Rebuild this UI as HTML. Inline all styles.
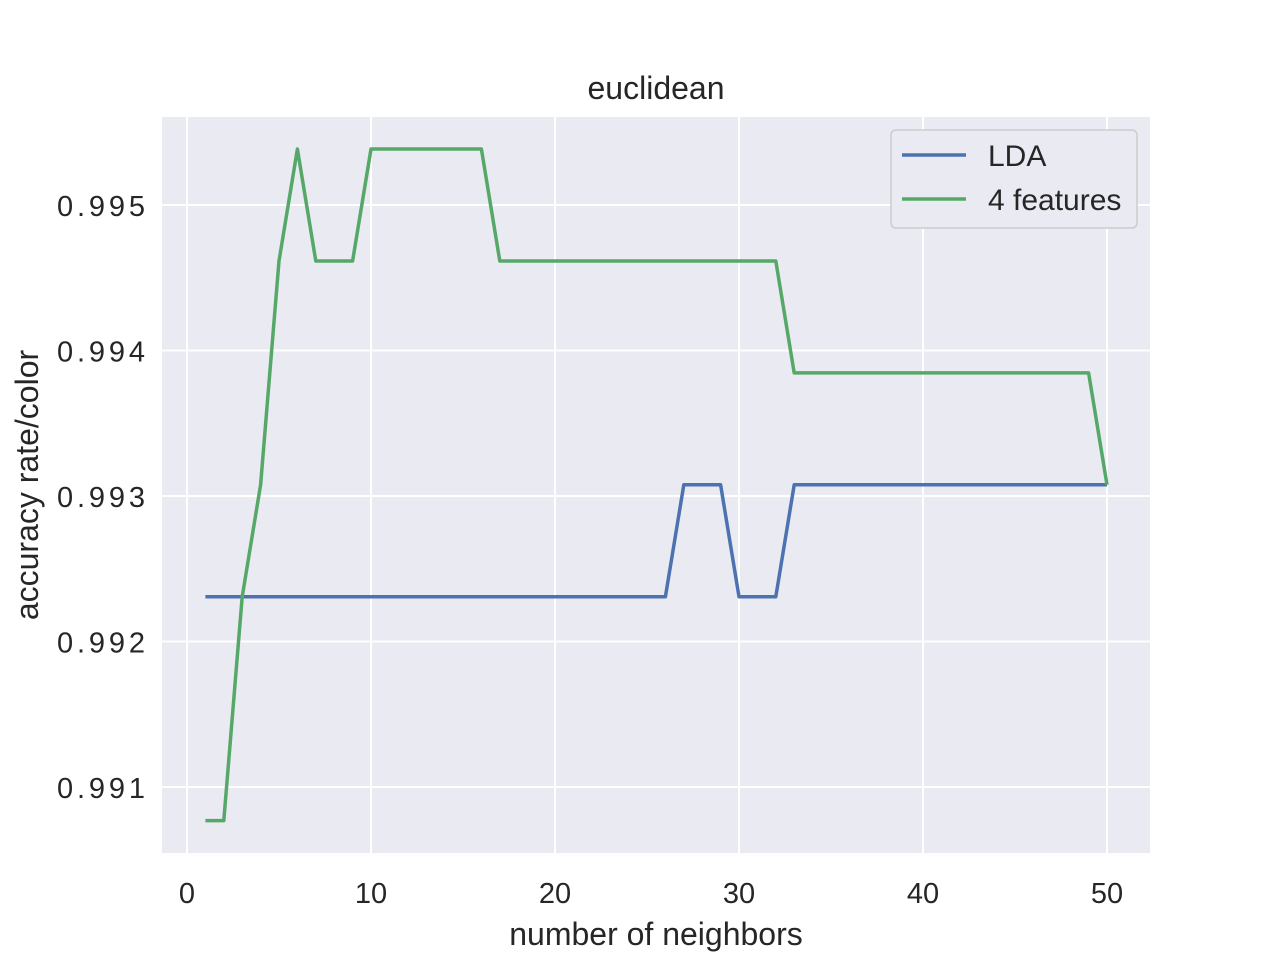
<!DOCTYPE html>
<html><head><meta charset="utf-8"><style>
body{margin:0;background:#fff;}
svg{display:block;font-family:"Liberation Sans","DejaVu Sans",sans-serif;}
</style></head><body>
<svg id="chart" width="1280" height="960">
<rect x="162" y="117" width="988" height="736" fill="#eaeaf2"/>
<g id="grid"></g>
<g id="lines"></g>
<text x="656" y="99" font-size="32" text-anchor="middle" fill="#262626">euclidean</text>
<text x="656" y="945" font-size="32" text-anchor="middle" fill="#262626">number of neighbors</text>
<text transform="translate(38,485) rotate(-90)" font-size="32" text-anchor="middle" fill="#262626">accuracy rate/color</text>
<g>
<rect x="891" y="130" width="246" height="98" rx="5" fill="#eaeaf2" stroke="#cccccc" stroke-width="1.5"/>
<line x1="902" y1="155" x2="966" y2="155" stroke="#4c72b0" stroke-width="3.5"/>
<text x="988" y="166" font-size="30" fill="#262626">LDA</text>
<line x1="902" y1="199" x2="966" y2="199" stroke="#55a868" stroke-width="3.5"/>
<text x="988" y="210" font-size="30" fill="#262626">4 features</text>
</g>
</svg>
<script>
const xTicks=[0,10,20,30,40,50];
const yTicks=[0.991,0.992,0.993,0.994,0.995];
const yTickLabels=["0.991","0.992","0.993","0.994","0.995"];
const ldaCounts=[1290,1290,1290,1290,1290,1290,1290,1290,1290,1290,1290,1290,1290,1290,1290,1290,1290,1290,1290,1290,1290,1290,1290,1290,1290,1290,1291,1291,1291,1290,1290,1290,1291,1291,1291,1291,1291,1291,1291,1291,1291,1291,1291,1291,1291,1291,1291,1291,1291,1291];
const featCounts=[1288,1288,1290,1291,1293,1294,1293,1293,1293,1294,1294,1294,1294,1294,1294,1294,1293,1293,1293,1293,1293,1293,1293,1293,1293,1293,1293,1293,1293,1293,1293,1293,1292,1292,1292,1292,1292,1292,1292,1292,1292,1292,1292,1292,1292,1292,1292,1292,1292,1291];
const ldaValues=ldaCounts.map(c=>c/1300);
const featValues=featCounts.map(c=>c/1300);
const NS="http://www.w3.org/2000/svg";
const xs=v=>187+v*18.4;
const ys=v=>205+(0.995-v)*145500;
const grid=document.getElementById('grid');
function mk(tag,attrs,parent){const e=document.createElementNS(NS,tag);for(const k in attrs)e.setAttribute(k,attrs[k]);parent.appendChild(e);return e;}
xTicks.forEach(t=>{
  const l=mk('line',{x1:xs(t),x2:xs(t),y1:117,y2:853,stroke:'#fff','stroke-width':2},grid);
  
  
  const tx=mk('text',{x:xs(t),y:903,'font-size':29,'text-anchor':'middle',fill:'#262626'},grid);
  tx.textContent=t;
  
  
});
yTicks.forEach((t,i)=>{
  const l=mk('line',{x1:162,x2:1150,y1:ys(t),y2:ys(t),stroke:'#fff','stroke-width':2},grid);
  
  
  const tx=mk('text',{x:145,y:ys(t)+11,'font-size':29,'text-anchor':'end',fill:'#262626'},grid);
  tx.textContent=yTickLabels[i];
  tx.setAttribute('textLength','88');
  
  
});
const lines=document.getElementById('lines');
function series(vals,color,name){
  const pts=vals.map((v,i)=>xs(i+1)+','+ys(v)).join(' ');
  const p=mk('polyline',{points:pts,fill:'none',stroke:color,'stroke-width':3.5,'stroke-linejoin':'round'},lines);
  
  
}
series(ldaValues,'#4c72b0','lda-line');
series(featValues,'#55a868','4-features-line');
</script>
</body></html>
